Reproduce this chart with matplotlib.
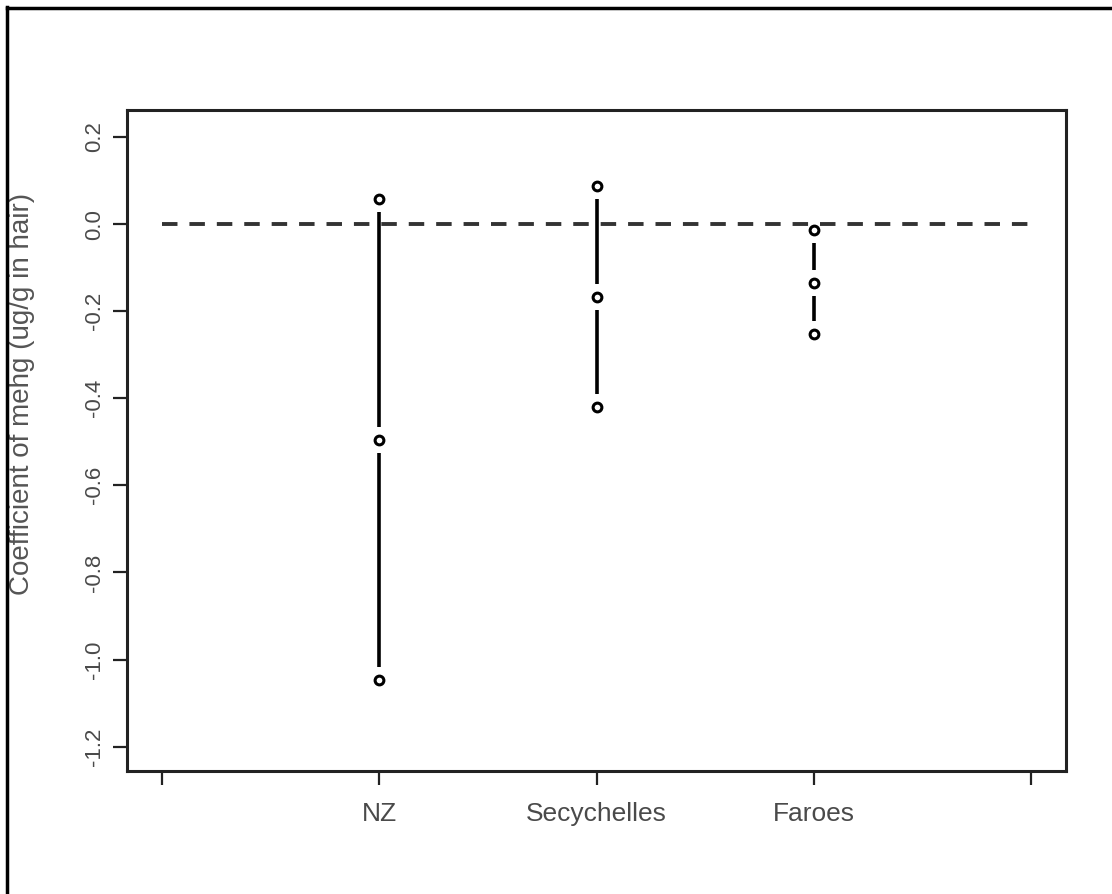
import numpy as np
import matplotlib
matplotlib.use("Agg")
import matplotlib.pyplot as plt
from matplotlib.lines import Line2D

# values
sites = ["NZ", "Secychelles", "Faroes"]
upper = [0.057, 0.087, -0.014]
est = [-0.495, -0.167, -0.135]
lower = [-1.047, -0.419, -0.252]
yticks = [-1.2, -1.0, -0.8, -0.6, -0.4, -0.2, 0.0, 0.2]

plt.rcParams['font.family'] = ['Liberation Sans', 'DejaVu Sans']

fig = plt.figure(figsize=(11.12, 8.94), dpi=100)
ax = fig.add_axes([127/1112, 1 - 771/894, 939/1112, 661/894])

ax.set_xlim(-0.16, 4.16)
ax.set_ylim(-1.256, 0.262)

# gap (R type="b") in data units, ~13 px
px_per_unit = 661 / (0.262 + 1.256)
gap = 13 / px_per_unit

ax.plot([0, 4], [0, 0], color="#333333", lw=2.8, linestyle=(0, (3.98, 3.07)),
        dash_capstyle="butt")

for i in range(len(sites)):
    x = i + 1
    ys = [upper[i], est[i], lower[i]]
    for a, b in zip(ys[:-1], ys[1:]):
        if a - b > 2 * gap:
            ax.plot([x, x], [a - gap, b + gap], color="black", lw=2.6,
                    solid_capstyle="butt")
    ax.plot([x] * 3, ys, linestyle="none", marker="o", markersize=6.3,
            markerfacecolor="white", markeredgecolor="black", markeredgewidth=2.2)

ax.set_xticks([0, 1, 2, 3, 4])
ax.set_xticklabels([""] + sites + [""])
ax.set_yticks(yticks)
ax.set_yticklabels(["%.1f" % v for v in yticks], rotation=90, va="center")
ax.tick_params(axis="both", length=10, width=1.6, color="#222222",
               labelcolor="#4a4a4a")
ax.tick_params(axis="x", pad=12, labelsize=19)
ax.tick_params(axis="y", pad=6, labelsize=16)
for s in ax.spines.values():
    s.set_linewidth(2.2)
    s.set_color("#222222")

ax.set_ylabel("Coefficient of mehg (ug/g in hair)", fontsize=20, color="#555555")
ax.yaxis.set_label_coords(-0.098, 0.57)

# outer frame (left and top edges)
fig.add_artist(Line2D([7/1112, 7/1112], [0, 1 - 7/894], transform=fig.transFigure,
                      color="black", lw=2.5))
fig.add_artist(Line2D([7/1112, 1], [1 - 8/894, 1 - 8/894], transform=fig.transFigure,
                      color="black", lw=2.5))

fig.savefig("out.png", dpi=100, facecolor="white")
